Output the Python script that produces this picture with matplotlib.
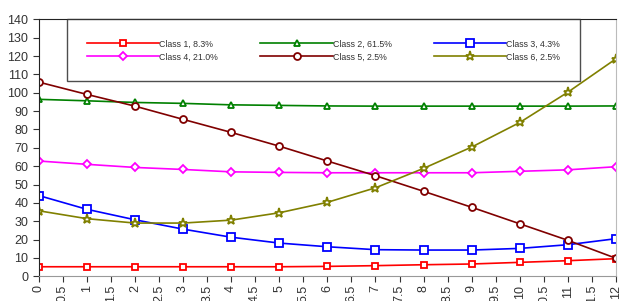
import matplotlib
matplotlib.use("Agg")
import matplotlib.pyplot as plt
import numpy as np

plt.rcParams['font.family'] = ['Liberation Sans', 'DejaVu Sans']

x = [0, 1, 2, 3, 4, 5, 6, 7, 8, 9, 10, 11, 12]
class1 = [5.2, 5.2, 5.2, 5.2, 5.2, 5.2, 5.4, 5.8, 6.3, 6.7, 7.6, 8.5, 9.6]
class2 = [96.4, 95.6, 94.7, 94.2, 93.4, 93.1, 92.8, 92.7, 92.7, 92.7, 92.7, 92.7, 92.8]
class3 = [44.0, 36.5, 30.8, 25.7, 21.3, 18.1, 16.1, 14.5, 14.3, 14.3, 15.2, 17.2, 20.5]
class4 = [62.8, 61.0, 59.3, 58.2, 56.9, 56.6, 56.4, 56.4, 56.4, 56.4, 57.2, 58.0, 59.7]
class5 = [105.8, 99.1, 92.7, 85.5, 78.4, 70.9, 62.8, 54.8, 46.3, 37.6, 28.6, 19.6, 9.8]
class6 = [35.7, 31.4, 29.0, 29.0, 30.6, 34.6, 40.3, 48.2, 58.8, 70.4, 83.8, 100.3, 118.5]
labels = ["Class 1, 8.3%", "Class 2, 61.5%", "Class 3, 4.3%",
          "Class 4, 21.0%", "Class 5, 2.5%", "Class 6, 2.5%"]

series = [class1, class2, class3, class4, class5, class6]
colors = ["#FF0000", "#008000", "#0000FF", "#FF00FF", "#800000", "#808000"]
markers = ["s", "^", "s", "D", "o", "*"]
msizes = [5, 5, 6, 4, 5, 6.5]

fig = plt.figure(figsize=(6.21, 3.01), dpi=100)
ax = fig.add_axes([38.7 / 621, 1 - 276.3 / 301, (616 - 38.7) / 621, (276.3 - 19.3) / 301])

handles = []
for s, c, m, ms, lab in zip(series, colors, markers, msizes, labels):
    h, = ax.plot(x, s, color=c, marker=m, markersize=ms, markerfacecolor="white",
                 markeredgecolor=c, markeredgewidth=1.3, linewidth=1.2, label=lab)
    handles.append(h)

ax.set_xlim(0, 12)
ax.set_ylim(0, 140)
ax.set_yticks(np.arange(0, 141, 10))
xt = np.arange(0, 12.01, 0.5)
ax.set_xticks(xt)
ax.set_xticklabels([("%g" % v) for v in xt], rotation=90, va="top", ha="center")
ax.tick_params(axis="both", labelsize=9, colors="#333333", length=4, direction="out")
ax.tick_params(axis="x", pad=2)

ax.spines['left'].set_color("#222222")
ax.spines['top'].set_color("#222222")
ax.spines['bottom'].set_color("#999999")
ax.spines['right'].set_color("#bbbbbb")

# legend fills column by column, so reorder to read row by row
order = [0, 3, 1, 4, 2, 5]
leg = ax.legend(handles=[handles[i] for i in order], ncol=3, loc="upper left",
                bbox_to_anchor=(0.0485, 0.0, 0.884, 1.0),
                fontsize=6.3, handlelength=8.3, handletextpad=0.0,
                columnspacing=4.8, labelspacing=0.45, borderpad=2.3,
                borderaxespad=0.0, fancybox=False, frameon=True,
                edgecolor="#222222")
leg.get_frame().set_linewidth(1.0)
for t in leg.get_texts():
    t.set_color("#333333")

fig.savefig("out.png", dpi=100)
